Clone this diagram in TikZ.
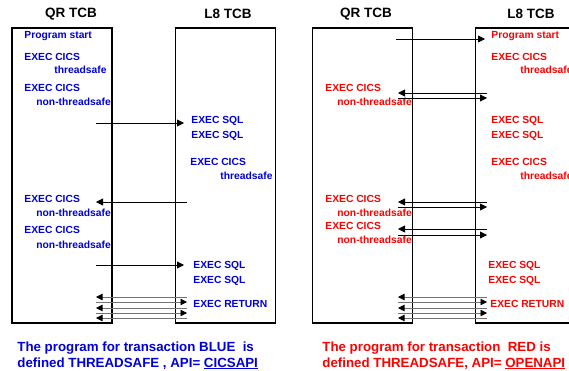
\documentclass[tikz,border=0pt]{standalone}
\usepackage{fontspec}
\setmainfont{Liberation Sans}
\usepackage{tikz}
\usetikzlibrary{arrows.meta, positioning}
\definecolor{txblue}{RGB}{0,0,220}
\definecolor{txred}{RGB}{255,0,0}

\begin{document}
\begin{tikzpicture}[x=1pt, y=1pt, line width=0.8pt,
  tcb/.style={draw, line width=1.2pt, minimum width=100pt, minimum height=295pt, inner sep=0pt},
  hdr/.style={font=\fontsize{13.5}{16}\selectfont\bfseries},
  op/.style={font=\fontsize{10.3}{12}\selectfont\bfseries, anchor=base west, inner sep=0pt},
  captxt/.style={font=\fontsize{13.3}{16}\selectfont\bfseries, anchor=north west, align=left, inner sep=0pt},
  sw/.style={-{Triangle[length=7pt, width=7pt]}},
  ret/.style={line width=0.8pt, draw=black!55, -{Triangle[black, length=6.5pt, width=6.5pt]}}]
  \useasboundingbox (0,0) rectangle (569,-371);

  % the four task control blocks
  \node[tcb] (qrA) at (62,-175.5)    {};
  \node[tcb] (l8A) at (225.5,-175.5) {};
  \node[tcb] (qrB) at (362.5,-175.5) {};
  \node[tcb] (l8B) at (525.5,-175.5) {};
  \node[hdr] (qrAt) at (71,-14)  {QR TCB};
  \node[hdr] (l8At) at (228,-14) {L8 TCB};
  \node[hdr] (qrBt) at (366,-14) {QR TCB};
  \node[hdr] (l8Bt) at (531,-14) {L8 TCB};

  % transaction BLUE, API=CICSAPI
  \begin{scope}[every node/.style={op, text=txblue}]
    \node (b_start) at (24,-39)   {Program start};
    \node (b_cics1) at (24,-61)   {EXEC CICS};
    \node (b_ts1)   at (54,-74)   {threadsafe};
    \node (b_cics2) at (24,-92)   {EXEC CICS};
    \node (b_nts2)  at (36,-106)  {non-threadsafe};
    \node (b_sql1)  at (191,-124) {EXEC SQL};
    \node (b_sql2)  at (191,-139) {EXEC SQL};
    \node (b_cics3) at (190,-166) {EXEC CICS};
    \node (b_ts3)   at (220,-180) {threadsafe};
    \node (b_cics4) at (24,-203)  {EXEC CICS};
    \node (b_nts4)  at (36,-216)  {non-threadsafe};
    \node (b_cics5) at (24,-233)  {EXEC CICS};
    \node (b_nts5)  at (36,-248)  {non-threadsafe};
    \node (b_sql3)  at (193,-268) {EXEC SQL};
    \node (b_sql4)  at (193,-283) {EXEC SQL};
    \node (b_ret)   at (193,-307) {EXEC RETURN};
  \end{scope}
  \node[captxt, text=txblue] (b_cap) at (17,-341)
    {The program for transaction BLUE\ \ is\\defined THREADSAFE , API= \underline{CICSAPI}};

  % transaction RED, API=OPENAPI
  \begin{scope}[every node/.style={op, text=txred}]
    \node (r_start) at (491,-39)  {Program start};
    \node (r_cics1) at (491,-61)  {EXEC CICS};
    \node (r_ts1)   at (520,-74)  {threadsafe};
    \node (r_cics2) at (325,-92)  {EXEC CICS};
    \node (r_nts2)  at (337,-106) {non-threadsafe};
    \node (r_sql1)  at (491,-124) {EXEC SQL};
    \node (r_sql2)  at (491,-139) {EXEC SQL};
    \node (r_cics3) at (491,-166) {EXEC CICS};
    \node (r_ts3)   at (520,-180) {threadsafe};
    \node (r_cics4) at (325,-203) {EXEC CICS};
    \node (r_nts4)  at (337,-216) {non-threadsafe};
    \node (r_cics5) at (325,-229) {EXEC CICS};
    \node (r_nts5)  at (337,-243) {non-threadsafe};
    \node (r_sql3)  at (488,-268) {EXEC SQL};
    \node (r_sql4)  at (488,-283) {EXEC SQL};
    \node (r_ret)   at (490,-307) {EXEC RETURN};
  \end{scope}
  \node[captxt, text=txred] (r_cap) at (322,-341)
    {The program for transaction\ \ RED is\\defined THREADSAFE, API= \underline{OPENAPI}};

  % switch points
  \coordinate (bq1) at (96,-123);  \coordinate (bl1) at (184,-123);
  \coordinate (bq2) at (96,-202);  \coordinate (bl2) at (187,-202);
  \coordinate (bq3) at (96,-265);  \coordinate (bl3) at (184,-265);
  \coordinate (rq0) at (396,-39);  \coordinate (rl0) at (485,-39);
  \coordinate (rq1) at (398,-93);  \coordinate (rl1) at (487,-93);
  \coordinate (rq2) at (398,-98);  \coordinate (rl2) at (487,-98);
  \coordinate (rq3) at (398,-202); \coordinate (rl3) at (487,-202);
  \coordinate (rq4) at (398,-207); \coordinate (rl4) at (487,-207);
  \coordinate (rq5) at (398,-229); \coordinate (rl5) at (487,-229);
  \coordinate (rq6) at (398,-235); \coordinate (rl6) at (487,-235);
  \foreach \i/\y in {1/297,2/302,3/308,4/313,5/318} {
    \coordinate (bqx\i) at (96,-\y);  \coordinate (blx\i) at (187,-\y);
    \coordinate (rqx\i) at (398,-\y); \coordinate (rlx\i) at (487,-\y);
  }

  \path[every edge/.append style={sw}]
        (bq1) edge (bl1)
        (bl2) edge (bq2)
        (bq3) edge (bl3)
        (rq0) edge (rl0)
        (rl1) edge (rq1)
        (rq2) edge (rl2)
        (rl3) edge (rq3)
        (rq4) edge (rl4)
        (rl5) edge (rq5)
        (rq6) edge (rl6)
        ;
  \path[every edge/.append style={ret}]
        (blx1) edge (bqx1)
        (bqx2) edge (blx2)
        (blx3) edge (bqx3)
        (bqx4) edge (blx4)
        (blx5) edge (bqx5)
        (rlx1) edge (rqx1)
        (rqx2) edge (rlx2)
        (rlx3) edge (rqx3)
        (rqx4) edge (rlx4)
        (rlx5) edge (rqx5)
        ;
\end{tikzpicture}
\end{document}
